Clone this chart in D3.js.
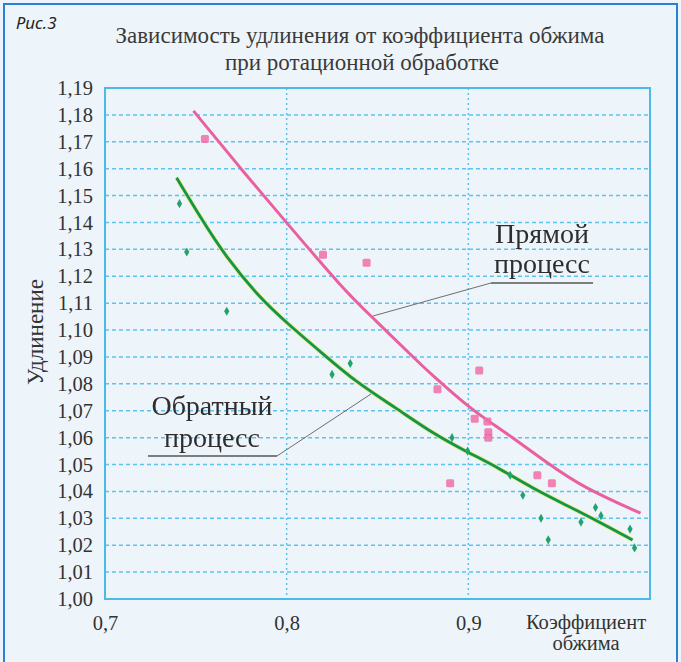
<!DOCTYPE html>
<html>
<head>
<meta charset="utf-8">
<script src="https://cdn.jsdelivr.net/npm/d3@7"></script>
<style>
  body { margin: 0; background: #eef5fa; }
</style>
</head>
<body>
<div id="chart"></div>
<script>
// tick values
const xTicks = [0.7, 0.8, 0.9];
const yTicks = [1.00, 1.01, 1.02, 1.03, 1.04, 1.05, 1.06, 1.07, 1.08, 1.09,
  1.10, 1.11, 1.12, 1.13, 1.14, 1.15, 1.16, 1.17, 1.18, 1.19];

// measured points, "Прямой процесс" (pink)
const directX = [0.755, 0.820, 0.844, 0.883, 0.906, 0.9035, 0.9105, 0.911, 0.911, 0.890, 0.938, 0.946];
const directY = [1.171, 1.128, 1.125, 1.078, 1.085, 1.067, 1.066, 1.062, 1.060, 1.043, 1.046, 1.043];

// measured points, "Обратный процесс" (green)
const reverseX = [0.741, 0.745, 0.767, 0.825, 0.835, 0.891, 0.8996, 0.923, 0.930, 0.940, 0.944, 0.962, 0.970, 0.973, 0.989, 0.9915];
const reverseY = [1.147, 1.129, 1.107, 1.0835, 1.0876, 1.060, 1.055, 1.046, 1.0386, 1.030, 1.022, 1.0286, 1.034, 1.031, 1.026, 1.019];

// trend curves
const directCurveX = [0.7487, 0.7757, 0.8005, 0.8318, 0.8472, 0.8715, 0.8803, 0.899, 0.9105, 0.9226, 0.943, 0.9628, 0.9948];
const directCurveY = [1.1815, 1.1592, 1.1395, 1.1147, 1.1047, 1.0887, 1.0831, 1.072, 1.0664, 1.0609, 1.0508, 1.0416, 1.0319];
const reverseCurveX = [0.7394, 0.7537, 0.7669, 0.785, 0.8005, 0.8197, 0.8384, 0.8605, 0.8803, 0.8995, 0.9171, 0.9353, 0.954, 0.9722, 0.9904];
const reverseCurveY = [1.1566, 1.1406, 1.1269, 1.1121, 1.1024, 1.0913, 1.0805, 1.0709, 1.0616, 1.0546, 1.0486, 1.0412, 1.0349, 1.0286, 1.0219];

const svgWidth = 681,
  svgHeight = 662,
  plot = { left: 105, right: 650, top: 88, bottom: 599 };

// no serif face is available in the renderer, so this ends on Noto Sans
const font = "'Liberation Serif', 'DejaVu Serif', 'Noto Serif', 'Noto Sans', sans-serif";

let x = d3.scaleLinear().domain([0.7, 1.0]).range([plot.left, plot.right]),
  y = d3.scaleLinear().domain([1.0, 1.19]).range([plot.bottom, plot.top]);

let svg = d3
  .select("#chart")
  .append("svg")
  .attr("width", svgWidth)
  .attr("height", svgHeight);

let defs = svg.append("defs");
defs
  .append("filter")
  .attr("id", "soft")
  .append("feGaussianBlur")
  .attr("stdDeviation", 0.6);

svg
  .append("rect")
  .attr("width", svgWidth)
  .attr("height", svgHeight)
  .attr("fill", "#eef5fa");

// outer frame (no bottom edge visible)
svg
  .append("rect")
  .attr("x", 4)
  .attr("y", 4)
  .attr("width", 673)
  .attr("height", 700)
  .attr("fill", "none")
  .attr("stroke", "#2a80d2")
  .attr("stroke-width", 2);

svg
  .append("text")
  .attr("x", 16)
  .attr("y", 29)
  .style("font-family", "'Noto Sans', sans-serif")
  .style("font-style", "italic")
  .style("font-size", "17px")
  .style("fill", "#222")
  .text("Рис.3");

// title
const title = svg
  .append("text")
  .attr("text-anchor", "middle")
  .style("font-family", font)
  .style("font-size", "23px")
  .style("fill", "#3a3a3a");
title.append("tspan").attr("x", 360).attr("y", 43).text("Зависимость удлинения от коэффициента обжима");
title.append("tspan").attr("x", 362).attr("y", 70).text("при ротационной обработке");

// grid
let grid = svg.append("g").attr("class", "grid");
grid
  .selectAll("line.h")
  .data(yTicks.slice(1, -1))
  .enter()
  .append("line")
  .attr("x1", plot.left)
  .attr("x2", plot.right)
  .attr("y1", d => y(d))
  .attr("y2", d => y(d))
  .attr("stroke", "#5cc3ee")
  .attr("stroke-width", 1.5)
  .attr("stroke-dasharray", "4,3");

grid
  .selectAll("line.v")
  .data(xTicks.slice(1))
  .enter()
  .append("line")
  .attr("x1", d => x(d))
  .attr("x2", d => x(d))
  .attr("y1", plot.top)
  .attr("y2", plot.bottom)
  .attr("stroke", "#5cc3ee")
  .attr("stroke-width", 1.5)
  .attr("stroke-dasharray", "2,3");

svg
  .append("rect")
  .attr("x", plot.left)
  .attr("y", plot.top)
  .attr("width", plot.right - plot.left)
  .attr("height", plot.bottom - plot.top)
  .attr("fill", "none")
  .attr("stroke", "#4db8ea")
  .attr("stroke-width", 2);

// axes
let yAxis = d3.axisLeft(y).tickValues(yTicks).tickSize(0).tickPadding(12)
  .tickFormat(d => d3.format(".2f")(d).replace(".", ","));
let xAxis = d3.axisBottom(x).tickValues(xTicks).tickSize(0).tickPadding(16)
  .tickFormat(d => d3.format(".1f")(d).replace(".", ","));

svg
  .append("g")
  .attr("transform", "translate(" + plot.left + ",0)")
  .call(yAxis)
  .call(g => g.select(".domain").remove())
  .selectAll("text")
  .style("font-size", "20.5px")
  .style("font-family", font)
  .attr("fill", "#333");

svg
  .append("g")
  .attr("transform", "translate(0," + plot.bottom + ")")
  .call(xAxis)
  .call(g => g.select(".domain").remove())
  .selectAll("text")
  .style("font-size", "20.5px")
  .style("font-family", font)
  .attr("fill", "#333");

svg
  .append("text")
  .attr("transform", "translate(35,332) rotate(-90)")
  .attr("text-anchor", "middle")
  .attr("dy", "0.35em")
  .style("font-family", font)
  .style("font-size", "23px")
  .style("fill", "#333")
  .text("Удлинение");

const xLabel = svg.append("text").attr("text-anchor", "middle").style("font-family", font).style("font-size", "20.5px").style("fill", "#333");
xLabel.append("tspan").attr("x", 586).attr("y", 629).text("Коэффициент");
xLabel.append("tspan").attr("x", 586).attr("y", 650).text("обжима");

// curves
let line = d3
  .line()
  .x(d => x(d[0]))
  .y(d => y(d[1]))
  .curve(d3.curveBasis);

const directCurve = directCurveX.map((v, i) => [v, directCurveY[i]]);
const reverseCurve = reverseCurveX.map((v, i) => [v, reverseCurveY[i]]);

svg
  .append("path")
  .datum(reverseCurve)
  .attr("d", line)
  .attr("fill", "none")
  .attr("stroke", "#eeea8c")
  .attr("stroke-width", 4.5);

svg
  .append("path")
  .datum(reverseCurve)
  .attr("d", line)
  .attr("fill", "none")
  .attr("stroke", "#13954b")
  .attr("stroke-width", 2.8);

svg
  .append("path")
  .datum(directCurve)
  .attr("d", line)
  .attr("fill", "none")
  .attr("stroke", "#ea5fa0")
  .attr("stroke-width", 3);

// points
svg
  .append("g")
  .attr("filter", "url(#soft)")
  .selectAll("rect")
  .data(directX.map((v, i) => [v, directY[i]]))
  .enter()
  .append("rect")
  .attr("x", d => x(d[0]) - 4)
  .attr("y", d => y(d[1]) - 4)
  .attr("width", 8)
  .attr("height", 8)
  .attr("rx", 1.5)
  .attr("fill", "#f06ea8")
  .attr("opacity", 0.85);

svg
  .append("g")
  .selectAll("path")
  .data(reverseX.map((v, i) => [v, reverseY[i]]))
  .enter()
  .append("path")
  .attr("transform", d => "translate(" + x(d[0]) + "," + y(d[1]) + ")")
  .attr("d", d3.symbol().type(d3.symbolDiamond).size(24))
  .attr("fill", "#23a36c");

// annotations
const leader = svg.append("g").attr("fill", "none");
leader
  .append("line")
  .attr("x1", 373).attr("y1", 316).attr("x2", 491).attr("y2", 283)
  .attr("stroke", "#6d6d6d")
  .attr("stroke-width", 1);
leader
  .append("line")
  .attr("x1", 491).attr("x2", 593).attr("y1", 283).attr("y2", 283)
  .attr("stroke", "#555").attr("stroke-width", 1.5);
leader
  .append("line")
  .attr("x1", 371).attr("y1", 394).attr("x2", 277).attr("y2", 456)
  .attr("stroke", "#6d6d6d")
  .attr("stroke-width", 1);
leader
  .append("line")
  .attr("x1", 148).attr("x2", 277).attr("y1", 456).attr("y2", 456)
  .attr("stroke", "#555").attr("stroke-width", 1.5);

const directLabel = svg.append("text").attr("text-anchor", "middle").style("font-family", font).style("font-size", "28px").style("fill", "#2e2e2e");
directLabel.append("tspan").attr("x", 542).attr("y", 243).text("Прямой");
directLabel.append("tspan").attr("x", 542).attr("y", 273).text("процесс");

const reverseLabel = svg.append("text").attr("text-anchor", "middle").style("font-family", font).style("font-size", "28px").style("fill", "#2e2e2e");
reverseLabel.append("tspan").attr("x", 212).attr("y", 415).text("Обратный");
reverseLabel.append("tspan").attr("x", 212).attr("y", 447).text("процесс");
</script>
</body>
</html>
